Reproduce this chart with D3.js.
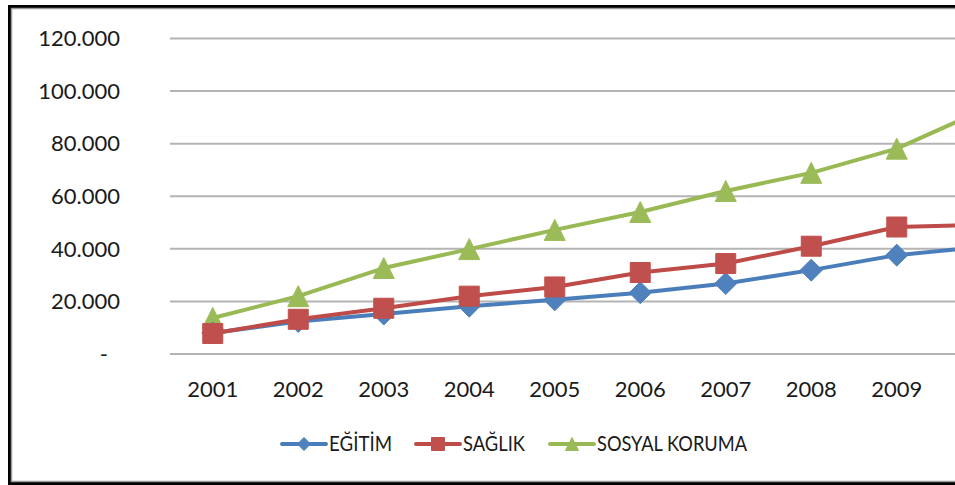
<!DOCTYPE html>
<html>
<head>
<meta charset="utf-8">
<script src="https://cdn.jsdelivr.net/npm/d3@7"></script>
<style>
  html, body { margin: 0; padding: 0; background: #fff; }
  svg { display: block; }
  text { font-family: Lato, "Noto Sans", sans-serif; fill: #1a1a1a; }
</style>
</head>
<body>
<svg id="chart" width="955" height="485"></svg>
<script>
// ---- data ----
const years = ["2001","2002","2003","2004","2005","2006","2007","2008","2009","2010"];
const egitim = [8000, 12400, 15200, 18200, 20600, 23300, 26800, 31900, 37600, 40800];
const saglik = [7800, 13200, 17400, 22000, 25500, 31000, 34400, 41000, 48300, 49200];
const sosyal = [13700, 22000, 32700, 39900, 47200, 54000, 62000, 68900, 78100, 92700];
const yTicks = [0, 20000, 40000, 60000, 80000, 100000, 120000];
const seriesNames = ["EĞİTİM", "SAĞLIK", "SOSYAL KORUMA"];

// ---- layout ----
const W = 955;
const svg = d3.select("#chart");
const plot = { left: 170, right: 1025, top: 38.5, bottom: 354 };

const x = d3.scalePoint().domain(years).range([plot.left, plot.right]).padding(0.5);
const y = d3.scaleLinear().domain([0, 120000]).range([plot.bottom, plot.top]);

// frame (chart area extends beyond the right edge of the picture)
svg.append("rect").attr("x", 9.5).attr("y", 6.5).attr("width", 1000).attr("height", 477)
  .attr("fill", "none").attr("stroke", "#000").attr("stroke-width", 3);
svg.append("rect").attr("x", 11.5).attr("y", 8.5).attr("width", 1000).attr("height", 473)
  .attr("fill", "none").attr("stroke", "#9a9a9a").attr("stroke-width", 1.5);

// gridlines
svg.append("g").selectAll("line").data(yTicks).join("line")
  .attr("x1", plot.left).attr("x2", W)
  .attr("y1", d => y(d)).attr("y2", d => y(d))
  .attr("stroke", "#b4b4b4").attr("stroke-width", 2);

// y axis labels
const fmt = v => v === 0 ? "-" : d3.format(",")(v).replace(/,/g, ".");
svg.append("g").selectAll("text").data(yTicks).join("text")
  .attr("x", d => d === 0 ? 108 : 120)
  .attr("y", d => y(d))
  .attr("dy", "0.35em")
  .attr("text-anchor", "end")
  .style("font-size", "22px")
  .text(fmt);

// x axis labels (only those that fall inside the visible picture)
svg.append("g").selectAll("text").data(years.filter(d => x(d) + 26 <= W)).join("text")
  .attr("x", d => x(d))
  .attr("y", 397)
  .attr("text-anchor", "middle")
  .style("font-size", "22px")
  .text(d => d);

// marker shapes
function markerPath(type, s) {
  const h = s / 2;
  if (type === "diamond") return `M0,${-h}L${h},0L0,${h}L${-h},0Z`;
  if (type === "square") return `M${-h},${-h}H${h}V${h}H${-h}Z`;
  return `M0,${-h}L${h},${h}L${-h},${h}Z`;
}

const series = [
  { name: seriesNames[0], values: egitim, line: "#4A7EBB", fill: "#4F81BD", marker: "diamond", size: 22, tl: 63 },
  { name: seriesNames[1], values: saglik, line: "#BE4B48", fill: "#C0504D", marker: "square", size: 20, tl: 62 },
  { name: seriesNames[2], values: sosyal, line: "#98B954", fill: "#9BBB59", marker: "triangle", size: 21, tl: 150 }
];

const lineGen = d3.line().x((d, i) => x(years[i])).y(d => y(d));
const drawOrder = [series[2], series[0], series[1]];

const gPlot = svg.append("g");
drawOrder.forEach(s => {
  const g = gPlot.append("g");
  g.append("path").datum(s.values).attr("d", lineGen)
    .attr("fill", "none").attr("stroke", s.line).attr("stroke-width", 4)
    .attr("stroke-linejoin", "round").attr("stroke-linecap", "round");
  g.selectAll("path.m").data(s.values).join("path").attr("class", "m")
    .attr("transform", (d, i) => `translate(${x(years[i])},${y(d)})`)
    .attr("d", markerPath(s.marker, s.size))
    .attr("fill", s.fill).attr("stroke", s.fill).attr("stroke-width", 1);
});

// legend
const legendX = [282, 416, 550];
const legendY = 444;
const lg = svg.append("g");
series.forEach((s, i) => {
  const g = lg.append("g").attr("transform", `translate(${legendX[i]},${legendY})`);
  g.append("line").attr("x1", 0).attr("x2", 44).attr("y1", 0).attr("y2", 0)
    .attr("stroke", s.line).attr("stroke-width", 4).attr("stroke-linecap", "round");
  g.append("path").attr("transform", "translate(22,0)")
    .attr("d", markerPath(s.marker, 13)).attr("fill", s.fill).attr("stroke", s.fill);
  g.append("text").attr("x", 47).attr("y", 0).attr("dy", "0.35em")
    .attr("textLength", s.tl).attr("lengthAdjust", "spacingAndGlyphs")
    .style("font-size", "21px").text(s.name);
});
</script>
</body>
</html>
